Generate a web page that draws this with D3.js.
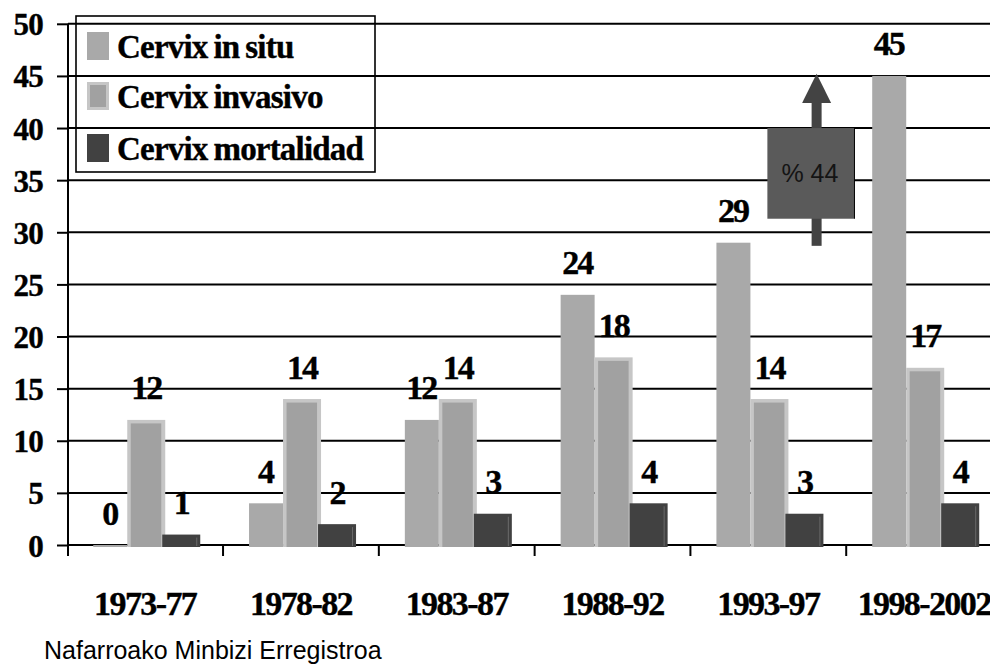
<!DOCTYPE html>
<html>
<head>
<meta charset="utf-8">
<script src="https://cdn.jsdelivr.net/npm/d3@7"></script>
<style>
  body { margin: 0; background: #ffffff; }
  svg { display: block; }
</style>
</head>
<body>
<svg id="chart" width="990" height="664"></svg>
<script>
// ---------- data ----------
const categories = ["1973-77", "1978-82", "1983-87", "1988-92", "1993-97", "1998-2002"];
const seriesNames = ["Cervix in situ", "Cervix invasivo", "Cervix mortalidad"];
const inSitu = [0, 4, 12, 24, 29, 45];
const invasivo = [12, 14, 14, 18, 14, 17];
const mortalidad = [1, 2, 3, 4, 3, 4];
const yTicks = [0, 5, 10, 15, 20, 25, 30, 35, 40, 45, 50];
const sourceNote = "Nafarroako Minbizi Erregistroa";
const annotationText = "% 44";

// ---------- setup ----------
const W = 990, H = 664;
const svg = d3.select("#chart");
svg.append("rect").attr("width", W).attr("height", H).attr("fill", "#ffffff");

const serif = "'Liberation Serif', 'Times New Roman', Times, serif";
const sans = "'Liberation Sans', Arial, Helvetica, sans-serif";

const plotLeft = 68, plotRight = 990;
const y = d3.scaleLinear().domain([0, 50]).range([545, 23.8]);
const x0 = d3.scaleBand().domain(categories).range([67.25, 1002]).padding(0);
const x1 = d3.scaleBand().domain(seriesNames).range([26, 131]).padding(0);

const colors = {
  "Cervix in situ": "#a9a9a9",
  "Cervix invasivo": "#a1a1a1",
  "Cervix mortalidad": "#414141"
};
const invasivoBorder = "#c6c6c6";

const seriesValues = {
  "Cervix in situ": inSitu,
  "Cervix invasivo": invasivo,
  "Cervix mortalidad": mortalidad
};

// ---------- gridlines ----------
svg.append("g")
  .selectAll("line")
  .data(yTicks.filter(t => t > 0))
  .join("line")
  .attr("x1", plotLeft).attr("x2", plotRight)
  .attr("y1", d => y(d)).attr("y2", d => y(d))
  .attr("stroke", "#000").attr("stroke-width", 2);

// ---------- legend (transparent, under bars) ----------
const legend = svg.append("g");
legend.append("rect")
  .attr("x", 76).attr("y", 16).attr("width", 299).attr("height", 156)
  .attr("fill", "none").attr("stroke", "#000").attr("stroke-width", 1.6);
const legendBaselines = [58, 108, 160];
seriesNames.forEach((s, i) => {
  const by = legendBaselines[i];
  if (s === "Cervix invasivo") {
    legend.append("rect").attr("x", 87).attr("y", by - 26).attr("width", 22).attr("height", 28)
      .attr("fill", invasivoBorder);
    legend.append("rect").attr("x", 90).attr("y", by - 23).attr("width", 16).attr("height", 22)
      .attr("fill", colors[s]);
  } else {
    legend.append("rect").attr("x", 87).attr("y", by - 26).attr("width", 22).attr("height", 28)
      .attr("fill", colors[s]);
  }
  legend.append("text")
    .attr("x", 117).attr("y", by)
    .attr("font-family", serif).attr("font-weight", "bold")
    .attr("font-size", 33).attr("letter-spacing", -0.8).attr("word-spacing", -1.5)
    .attr("fill", "#000").attr("stroke", "#000").attr("stroke-width", 0.4)
    .text(s);
});

// ---------- y axis ----------
const yAxis = svg.append("g")
  .attr("transform", `translate(${plotLeft},0)`)
  .call(d3.axisLeft(y).tickValues(yTicks).tickSize(11).tickPadding(14).tickSizeOuter(0));
yAxis.select(".domain").remove();
yAxis.selectAll(".tick line").attr("stroke", "#000").attr("stroke-width", 2);
yAxis.selectAll(".tick text")
  .attr("font-family", serif).attr("font-weight", "bold").attr("font-size", 31)
  .attr("letter-spacing", -0.8)
  .attr("fill", "#000").attr("stroke", "#000").attr("stroke-width", 0.4)
  .attr("dy", null).attr("y", 11);
svg.append("line")
  .attr("x1", plotLeft).attr("x2", plotLeft)
  .attr("y1", y(50)).attr("y2", 556)
  .attr("stroke", "#000").attr("stroke-width", 2);

// baseline
svg.append("line")
  .attr("x1", plotLeft).attr("x2", plotRight)
  .attr("y1", y(0)).attr("y2", y(0))
  .attr("stroke", "#000").attr("stroke-width", 2);

// category boundary ticks
svg.append("g")
  .selectAll("line")
  .data(categories.slice(1))
  .join("line")
  .attr("x1", d => x0(d)).attr("x2", d => x0(d))
  .attr("y1", y(0)).attr("y2", 556)
  .attr("stroke", "#000").attr("stroke-width", 2);

// x axis labels
const xAxis = svg.append("g")
  .attr("transform", `translate(0,${y(0)})`)
  .call(d3.axisBottom(x0).tickSize(0).tickSizeOuter(0));
xAxis.select(".domain").remove();
xAxis.selectAll(".tick text")
  .attr("font-family", serif).attr("font-weight", "bold").attr("font-size", 34)
  .attr("letter-spacing", -1.6)
  .attr("fill", "#000").attr("stroke", "#000").attr("stroke-width", 0.4)
  .attr("dy", null).attr("y", 70);

// ---------- bars ----------
const barsG = svg.append("g");
seriesNames.forEach(s => {
  const vals = seriesValues[s];
  categories.forEach((c, i) => {
    const v = vals[i];
    const bx = x0(c) + x1(s);
    const top = y(v);
    const bottom = y(0) + 2;
    if (s === "Cervix in situ") {
      barsG.append("rect")
        .attr("x", bx).attr("y", top)
        .attr("width", x1.bandwidth() - 1).attr("height", Math.max(2, bottom - top))
        .attr("fill", colors[s]);
    } else if (s === "Cervix invasivo") {
      const w = x1.bandwidth() + 3;
      barsG.append("rect")
        .attr("x", bx - 1).attr("y", top)
        .attr("width", w).attr("height", bottom - top)
        .attr("fill", invasivoBorder);
      barsG.append("rect")
        .attr("x", bx + 2.5).attr("y", top + 3.5)
        .attr("width", w - 7.5).attr("height", Math.max(0, bottom - top - 3.5))
        .attr("fill", colors[s]);
    } else {
      const w = x1.bandwidth() + 3;
      barsG.append("rect")
        .attr("x", bx - 1).attr("y", top)
        .attr("width", w).attr("height", bottom - top)
        .attr("fill", colors[s]);
      barsG.append("line")
        .attr("x1", bx - 1 + w - 3.5).attr("x2", bx - 1 + w - 3.5)
        .attr("y1", top + 3).attr("y2", bottom - 1)
        .attr("stroke", "#6a6a6a").attr("stroke-width", 1);
    }
  });
});

// ---------- value labels ----------
const labelsG = svg.append("g");
seriesNames.forEach(s => {
  const vals = seriesValues[s];
  categories.forEach((c, i) => {
    const v = vals[i];
    const cx = x0(c) + x1(s) + x1.bandwidth() / 2 + (s === "Cervix in situ" ? -1 : 0.5);
    labelsG.append("text")
      .attr("x", cx).attr("y", y(v) - 20.5)
      .attr("text-anchor", "middle")
      .attr("font-family", serif).attr("font-weight", "bold").attr("font-size", 34)
      .attr("letter-spacing", -2)
      .attr("fill", "#000").attr("stroke", "#000").attr("stroke-width", 0.4)
      .text(v);
  });
});

// ---------- annotation arrow + box ----------
const annCat = "1993-97";
const ax = x0(annCat) + x0.bandwidth() * 0.81;
const annG = svg.append("g");
annG.append("rect")
  .attr("x", ax - 5).attr("y", y(42.6)).attr("width", 10).attr("height", y(28.7) - y(42.6))
  .attr("fill", "#434343");
annG.append("path")
  .attr("d", `M${ax},${y(45.2)} L${ax + 14.5},${y(42.4)} L${ax - 14.5},${y(42.4)} Z`)
  .attr("fill", "#434343");
const boxX0 = x0(annCat) + x0.bandwidth() * 0.494;
const boxX1 = x0(annCat) + x0.bandwidth() * 1.053;
annG.append("rect")
  .attr("x", boxX0).attr("y", y(40)).attr("width", boxX1 - boxX0).attr("height", y(31.3) - y(40))
  .attr("fill", "#5a5a5a");
annG.append("line")
  .attr("x1", boxX1).attr("x2", boxX1).attr("y1", y(40)).attr("y2", y(31.3))
  .attr("stroke", "#000").attr("stroke-width", 1);
annG.append("text")
  .attr("x", (boxX0 + boxX1) / 2 - 1).attr("y", y(35.7) + 9)
  .attr("text-anchor", "middle")
  .attr("font-family", sans).attr("font-size", 25)
  .attr("fill", "#141414")
  .text(annotationText);

// ---------- source note ----------
svg.append("text")
  .attr("x", 44).attr("y", 659)
  .attr("font-family", sans).attr("font-size", 25)
  .attr("fill", "#000")
  .text(sourceNote);
</script>
</body>
</html>
